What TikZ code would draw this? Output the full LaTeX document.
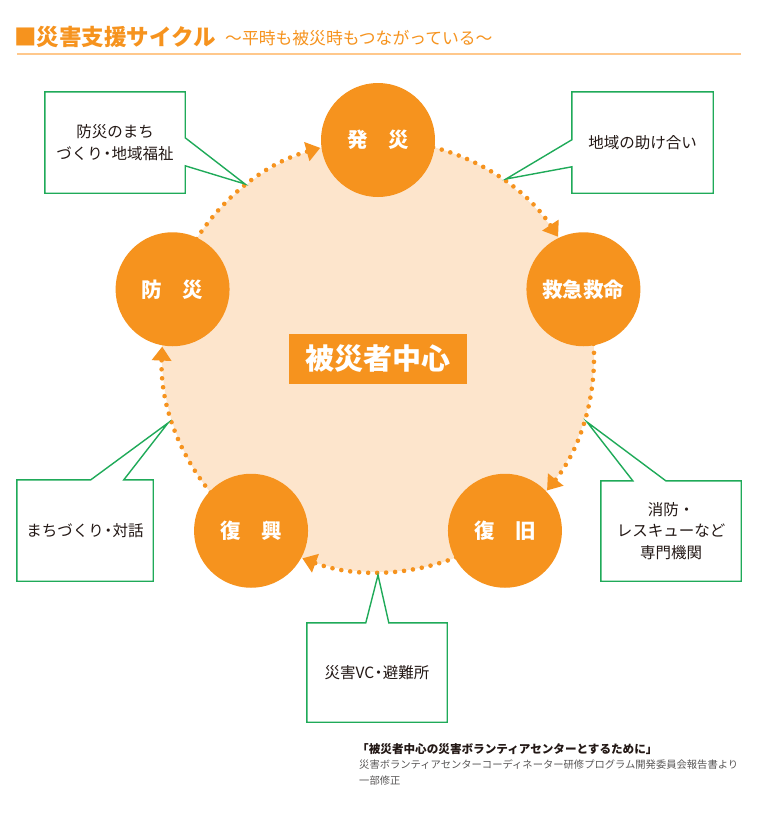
\documentclass[tikz,border=0pt]{standalone}
\usepackage{fontspec}
\setmainfont{Noto Sans CJK JP}
\usetikzlibrary{arrows.meta}
\definecolor{myorange}{HTML}{F6931E}
\definecolor{mypeach}{HTML}{FDE5CC}
\definecolor{mygreen}{HTML}{1FAA59}
\definecolor{myline}{HTML}{FFC88C}
\definecolor{mytext}{HTML}{231815}
\definecolor{mygray}{HTML}{595757}
\newcommand{\ndot}{\kern-0.22em・\kern-0.22em}
\tikzset{
  stage/.style={circle, fill=myorange, minimum size=114pt, inner sep=0pt, text=white,
    font=\bfseries\fontsize{20.5}{24}\selectfont},
  hub/.style={rectangle, fill=myorange, minimum width=178pt, minimum height=50pt, inner sep=0pt,
    text=white, font=\bfseries\fontsize{29}{34}\selectfont},
  cyc/.style={draw=myorange, line width=4.6pt, line cap=round, dash pattern=on 0pt off 9pt,
    -{Triangle[length=14pt,width=19pt]}},
  callframe/.style={draw=mygreen, line width=1.4pt, fill=white, line join=miter},
  area/.style={rectangle, inner sep=0pt, draw=none},
  calltext/.style={text=mytext, font=\fontsize{15.5}{21.5}\selectfont, align=center, inner sep=0pt},
}
\begin{document}
\begin{tikzpicture}[x=1pt,y=1pt]
\useasboundingbox (0,0) rectangle (768,-828);
\fill[white] (0,0) rectangle (768,-828);

% title
\node[anchor=west, inner sep=0pt, text=myorange, font=\bfseries\fontsize{22.5}{26}\selectfont] (title) at (14,-37) {■災害支援サイクル};
\node[anchor=west, inner sep=0pt, text=myorange, font=\fontsize{16.8}{20}\selectfont] (subtitle) at (225,-38) {～平時も被災時もつながっている～};
\coordinate (rulel) at (17,-54.3);
\coordinate (ruler) at (741,-54.3);
\draw[myline, line width=2pt] (rulel) -- (ruler);

% cycle
\coordinate (C) at (378,-356);
\fill[mypeach] (C) circle (216pt);

\draw[cyc] ([shift={(80:216pt)}]C) arc (80:33.5:216pt);
\draw[cyc] ([shift={(8:216pt)}]C) arc (8:-38.5:216pt);
\draw[cyc] ([shift={(-64:216pt)}]C) arc (-64:-110.5:216pt);
\draw[cyc] ([shift={(-136:216pt)}]C) arc (-136:-182.5:216pt);
\draw[cyc] ([shift={(152:216pt)}]C) arc (152:105.5:216pt);

\node[stage] (s1) at ([shift={(90:216pt)}]C) {発　災};
\node[stage] (s2) at ([shift={(18:216pt)}]C) {救急救命};
\node[stage] (s3) at ([shift={(-54:216pt)}]C) {復　旧};
\node[stage] (s4) at ([shift={(-126:216pt)}]C) {復　興};
\node[stage] (s5) at ([shift={(162:216pt)}]C) {防　災};

\node[hub] (hub) at (378,-359) {被災者中心};

% callouts
\coordinate (t1) at (245,-184);
\coordinate (t2) at (506,-179);
\coordinate (t3) at (587,-422);
\coordinate (t4) at (168,-423);
\coordinate (t5) at (378,-575);

\node[area, minimum width=140pt, minimum height=101pt] (c1) at (115,-142.5) {};
\draw[callframe] (c1.north west) -- (c1.north east) -- ([yshift=-46pt]c1.north east) -- (t1)
  -- ([yshift=-74pt]c1.north east) -- (c1.south east) -- (c1.south west) -- cycle;
\node[calltext] (c1l) at (c1.center) {防災のまち\\づくり\ndot 地域福祉};

\node[area, minimum width=141pt, minimum height=101pt] (c2) at (642.5,-142.5) {};
\draw[callframe] (c2.north east) -- (c2.north west) -- ([yshift=-48pt]c2.north west) -- (t2)
  -- ([yshift=-75pt]c2.north west) -- (c2.south west) -- (c2.south east) -- cycle;
\node[calltext] (c2l) at (c2.center) {地域の助け合い};

\node[area, minimum width=140pt, minimum height=100pt] (c3) at (671,-531) {};
\draw[callframe] (c3.south west) -- (c3.north west) -- ([xshift=32pt]c3.north west) -- (t3)
  -- ([xshift=65pt]c3.north west) -- (c3.north east) -- (c3.south east) -- cycle;
\node[calltext] (c3l) at (c3.center) {消防・\\レスキューなど\\専門機関};

\node[area, minimum width=136pt, minimum height=101pt] (c4) at (85,-530.5) {};
\draw[callframe] (c4.south west) -- (c4.north west) -- ([xshift=74pt]c4.north west) -- (t4)
  -- ([xshift=107pt]c4.north west) -- (c4.north east) -- (c4.south east) -- cycle;
\node[calltext] (c4l) at (c4.center) {まちづくり\ndot 対話};

\node[area, minimum width=140pt, minimum height=99pt] (c5) at (377,-672.5) {};
\draw[callframe] (c5.south west) -- (c5.north west) -- ([xshift=59pt]c5.north west) -- (t5)
  -- ([xshift=82pt]c5.north west) -- (c5.north east) -- (c5.south east) -- cycle;
\node[calltext] (c5l) at (c5.center) {災害VC\ndot 避難所};

% source
\node[anchor=west, inner sep=0pt, text=mytext, font=\bfseries\fontsize{11.6}{13}\selectfont] (src1) at (357,-749) {「被災者中心の災害ボランティアセンターとするために」};
\node[anchor=west, inner sep=0pt, text=mygray, font=\fontsize{10.3}{12}\selectfont] (src2) at (359,-765) {災害ボランティアセンターコーディネーター研修プログラム開発委員会報告書より};
\node[anchor=west, inner sep=0pt, text=mygray, font=\fontsize{10.3}{12}\selectfont] (src3) at (359,-781) {一部修正};
\end{tikzpicture}
\end{document}
